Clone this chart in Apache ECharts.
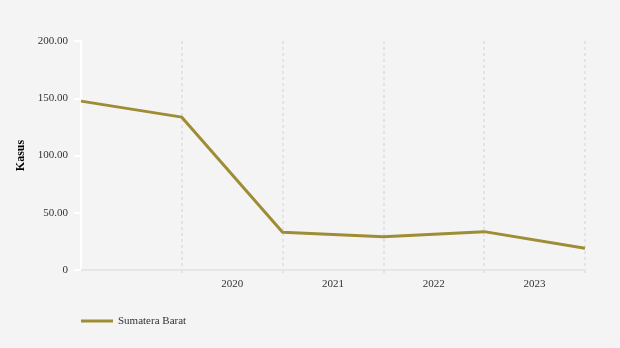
<!DOCTYPE html>
<html>
<head>
<meta charset="utf-8">
<script src="https://cdn.jsdelivr.net/npm/echarts@6/dist/echarts.min.js"></script>
<style>html,body{margin:0;padding:0;background:#f4f4f4;}#c{width:620px;height:348px;}</style>
</head>
<body>
<div id="c"></div>
<script>
var pointCategories = ['2018', '2019', '2020', '2021', '2022', '2023'];
var bandLabels = ['', '2020', '2021', '2022', '2023'];
var seriesName = 'Sumatera Barat';
var seriesValues = [147.5, 133.5, 33.0, 29.1, 33.5, 19.0];
var yTicks = [0, 50, 100, 150, 200];

var chart = echarts.init(document.getElementById('c'));
var font = "'Liberation Serif', 'Times New Roman', serif";
chart.setOption({
  backgroundColor: '#f4f4f4',
  animation: false,
  textStyle: { fontFamily: font },
  grid: { left: 81, right: 35, top: 41, bottom: 78 },
  legend: {
    left: 76, top: 309,
    icon: 'rect',
    itemWidth: 32, itemHeight: 3, itemGap: 5,
    textStyle: { fontFamily: font, fontSize: 11, color: '#333', lineHeight: 14 },
    data: [seriesName]
  },
  xAxis: [{
    type: 'category',
    data: pointCategories,
    boundaryGap: false,
    axisLine: { show: true, lineStyle: { color: '#e6e6e6', width: 2 } },
    axisTick: { show: true, length: 6, interval: function (i) { return i !== 0; }, lineStyle: { color: '#e3e3e3', width: 2, type: [3, 3] } },
    axisLabel: { show: false },
    splitLine: { show: true, interval: function (i) { return i !== 0; }, lineStyle: { color: '#e3e3e3', width: 2, type: [3, 3] } }
  }, {
    type: 'category',
    position: 'bottom',
    data: bandLabels,
    boundaryGap: true,
    axisLine: { show: false },
    axisTick: { show: false },
    splitLine: { show: false },
    axisLabel: { show: true, interval: 0, margin: 9, fontFamily: font, fontSize: 11, color: '#333' }
  }],
  yAxis: {
    type: 'value',
    min: yTicks[0], max: yTicks[yTicks.length - 1], interval: 50,
    name: 'Kasus',
    nameLocation: 'middle',
    nameRotate: 90,
    nameGap: 50,
    nameTextStyle: { fontFamily: font, fontSize: 12, fontWeight: 'bold', color: '#000' },
    axisLine: { show: true, lineStyle: { color: '#ffffff', width: 2 } },
    axisTick: { show: true, length: 7, lineStyle: { color: '#ffffff', width: 2 } },
    axisLabel: { margin: 13, fontFamily: font, fontSize: 11, color: '#333',
      formatter: function (v) { return v === 0 ? '0' : v.toFixed(2); } },
    splitLine: { show: false }
  },
  series: [{
    name: seriesName,
    type: 'line',
    xAxisIndex: 0,
    data: seriesValues,
    symbol: 'none',
    lineStyle: { color: '#9e8d34', width: 3 },
    itemStyle: { color: '#9e8d34' }
  }]
});
</script>
</body>
</html>
